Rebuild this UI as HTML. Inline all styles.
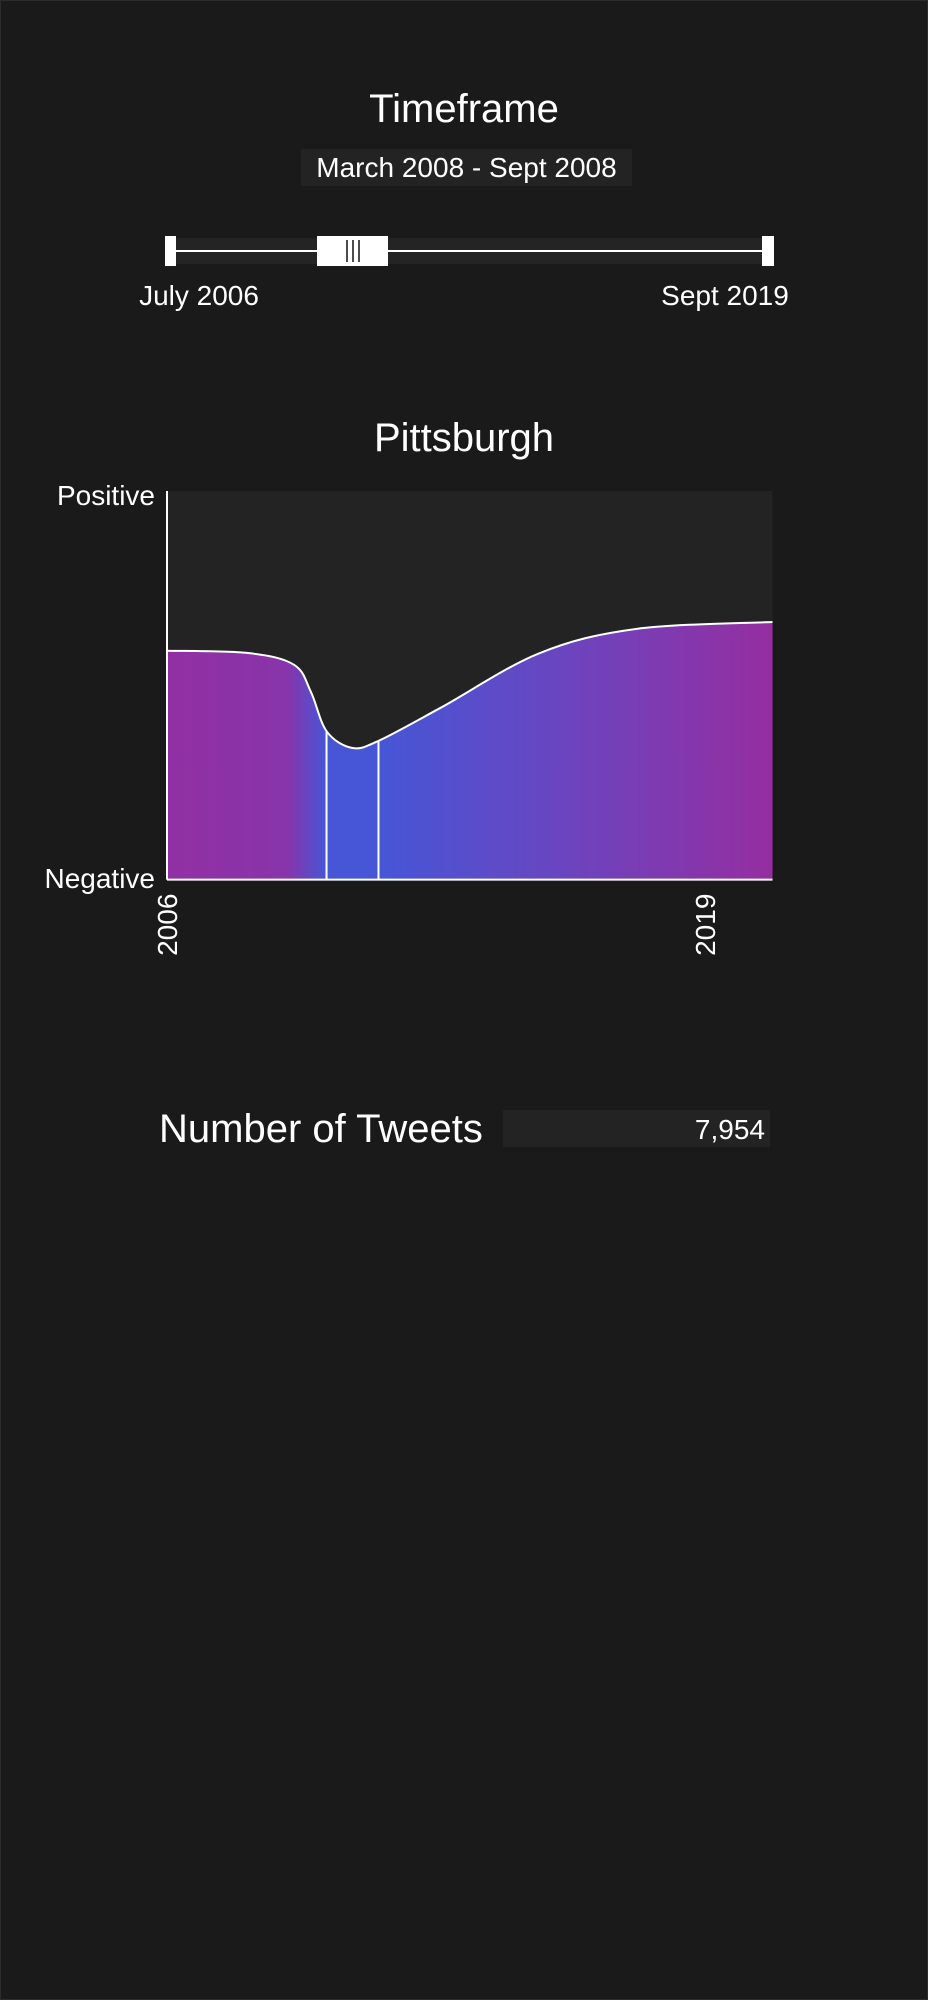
<!DOCTYPE html>
<html><head><meta charset="utf-8">
<style>
html,body{margin:0;padding:0;background:#1a1a1a;}
body{width:928px;height:2000px;position:relative;overflow:hidden;font-family:"Liberation Sans Narrow","Liberation Sans",sans-serif;color:#fff;}
.t{position:absolute;white-space:nowrap;}
</style></head><body>
<div style="position:absolute;left:0;top:0;width:926px;height:1998px;border:1px solid #2c2c2c;"></div>
<div class="t" style="left:0;width:928px;text-align:center;top:87px;font-size:40px;">Timeframe</div>
<div style="position:absolute;left:301px;top:149px;width:331px;height:37px;background:#232323;"></div>
<div class="t" style="left:301px;width:331px;text-align:center;top:152px;font-size:28px;">March 2008 - Sept 2008</div>

<svg style="position:absolute;left:0;top:0" width="928" height="300">
  <rect x="172" y="238" width="592" height="26" fill="#242424"/>
  <line x1="172" x2="764" y1="251" y2="251" stroke="#fff" stroke-width="2"/>
  <rect x="165" y="236" width="11" height="30" fill="#fff"/>
  <rect x="762" y="236" width="12" height="30" fill="#fff"/>
  <rect x="317" y="236" width="71" height="30" fill="#fff"/>
  <line x1="347" x2="347" y1="240" y2="262" stroke="#111" stroke-width="1.5"/>
  <line x1="353" x2="353" y1="240" y2="262" stroke="#111" stroke-width="1.5"/>
  <line x1="359" x2="359" y1="240" y2="262" stroke="#111" stroke-width="1.5"/>
</svg>
<div class="t" style="left:99px;width:200px;text-align:center;top:280px;font-size:28px;">July 2006</div>
<div class="t" style="left:625px;width:200px;text-align:center;top:280px;font-size:28px;">Sept 2019</div>

<div class="t" style="left:0;width:928px;text-align:center;top:416px;font-size:40px;">Pittsburgh</div>
<div class="t" style="left:0;width:155px;text-align:right;top:480px;font-size:28px;">Positive</div>
<div class="t" style="left:0;width:155px;text-align:right;top:863px;font-size:28px;">Negative</div>

<svg id="chart" style="position:absolute;left:0;top:0" width="928" height="1000"></svg>

<div class="t" style="left:159px;top:1107px;font-size:40px;">Number of Tweets</div>
<div style="position:absolute;left:503px;top:1110px;width:267px;height:37px;background:#232323;"></div>
<div class="t" style="left:503px;width:262px;text-align:right;top:1114px;font-size:28px;">7,954</div>

<script>
const years = [2006.5, 2008.26, 2009.26, 2009.63, 2009.97, 2010.52, 2011.1, 2012.48, 2014.59, 2016.7, 2019.67];
const sentiment = [0.589, 0.583, 0.553, 0.483, 0.382, 0.339, 0.357, 0.444, 0.582, 0.645, 0.663];
const selection = [2009.97, 2011.1];
const tickYears = [2006.5, 2018.2];
const tickLabels = ["2006", "2019"];

const L=167,R=772.5,T=491,B=879.6;
const xMin=2006.5,xMax=2019.67;
const xs=v=>L+(v-xMin)/(xMax-xMin)*(R-L);
const ys=v=>B-v*(B-T);
const NS="http://www.w3.org/2000/svg";
const svg=document.getElementById('chart');
function mk(tag,attrs){const e=document.createElementNS(NS,tag);for(const k in attrs)e.setAttribute(k,attrs[k]);svg.appendChild(e);return e;}

const defs=document.createElementNS(NS,'defs');svg.appendChild(defs);
const sx0=(xs(selection[0])-L)/(R-L), sx1=(xs(selection[1])-L)/(R-L);
defs.innerHTML='<linearGradient id="g" x1="0" x2="1" y1="0" y2="0">'+
 '<stop offset="0" stop-color="#9130a3"/>'+
 '<stop offset="'+(sx0*0.75)+'" stop-color="#8834aa"/>'+
 '<stop offset="'+sx0+'" stop-color="#4656d6"/>'+
 '<stop offset="'+sx1+'" stop-color="#4656d6"/>'+
 '<stop offset="'+(sx1+0.3)+'" stop-color="#6a45c0"/>'+
 '<stop offset="1" stop-color="#952ea0"/></linearGradient>';

const bg=mk('rect',{x:L,y:T,width:R-L,height:B-T,fill:'#232323'});



const pts=years.map((y,i)=>[xs(y),ys(sentiment[i])]);
function smooth(p){let d='M'+p[0][0]+','+p[0][1];
 for(let i=0;i<p.length-1;i++){const p0=p[i-1]||p[i],p1=p[i],p2=p[i+1],p3=p[i+2]||p2;
  const c1=[p1[0]+(p2[0]-p0[0])/6,p1[1]+(p2[1]-p0[1])/6],c2=[p2[0]-(p3[0]-p1[0])/6,p2[1]-(p3[1]-p1[1])/6];
  d+=' C'+c1+' '+c2+' '+p2;}return d;}
const line=smooth(pts);
const area=mk('path',{d:line+' L'+R+','+B+' L'+L+','+B+' Z',fill:'url(#g)'});


const ln=mk('path',{d:line,fill:'none',stroke:'#fff','stroke-width':2});



const probe=mk('path',{d:line,fill:'none',stroke:'none'});
const len=probe.getTotalLength();
function yAt(x){let lo=0,hi=len;for(let k=0;k<40;k++){const m=(lo+hi)/2;if(probe.getPointAtLength(m).x<x)lo=m;else hi=m;}return probe.getPointAtLength(lo).y;}
selection.forEach((s,i)=>{const x=xs(s);
 const sl=mk('line',{x1:x,x2:x,y1:yAt(x),y2:B,stroke:'#fff','stroke-width':2});
 
 });
probe.remove();

const ya=mk('line',{x1:L,x2:L,y1:T,y2:B,stroke:'#fff','stroke-width':2});


const xa=mk('line',{x1:L,x2:R,y1:B,y2:B,stroke:'#fff','stroke-width':2});



tickYears.forEach((t,i)=>{const x=xs(t);
 const tx=mk('text',{x:0,y:0,fill:'#fff','font-size':28,'font-family':'"Liberation Sans Narrow","Liberation Sans",sans-serif','text-anchor':'end',transform:'translate('+(x+10)+','+(B+14)+') rotate(-90)'});
 tx.textContent=tickLabels[i];
 
 });
</script>
</body></html>
